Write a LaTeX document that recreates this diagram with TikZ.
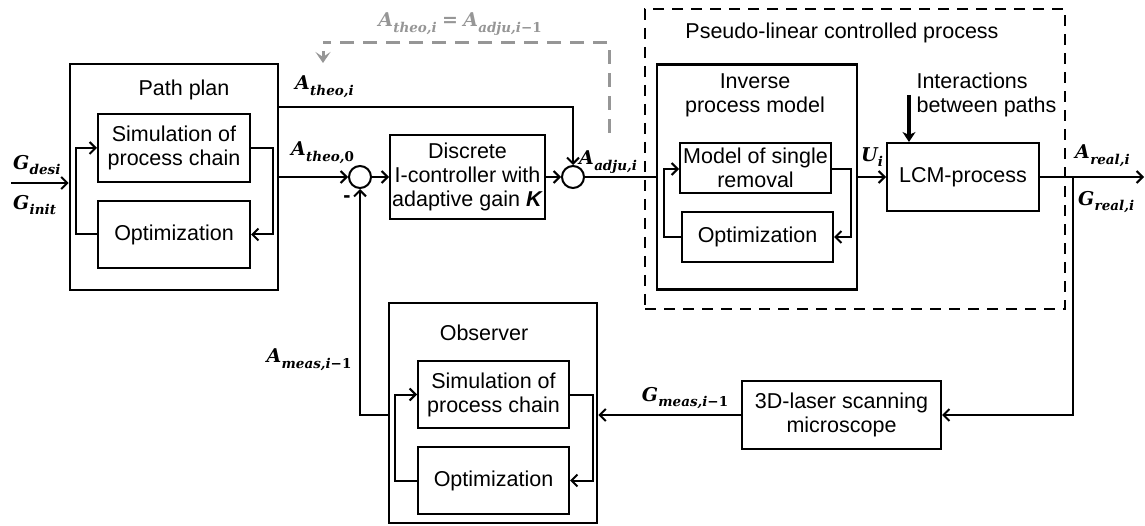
\documentclass[tikz,border=0pt]{standalone}
\usepackage{fontspec}
\setmainfont{Liberation Sans}
\newfontfamily\lserif{DejaVu Serif}
\usetikzlibrary{arrows.meta}

\definecolor{dashgray}{RGB}{150,150,150}

% bold italic serif symbol with a subscript
\newcommand\lbi{\lserif\bfseries\itshape}
\newcommand\sv[2]{{\lbi #1\kern0.3pt\raisebox{-0.3em}{\fontsize{13.5}{14}\selectfont\lbi #2}}}
\newcommand\up[1]{{\upshape #1}}

\begin{document}
\begin{tikzpicture}[x=1pt,y=-1pt,
  txt/.style={font=\fontsize{21.5}{24}\selectfont},
  mlab/.style={font=\fontsize{19}{22}\selectfont, inner sep=0pt},
  box/.style={draw, line width=2pt, inner sep=0pt, txt, align=center},
  bigbox/.style={draw, line width=2.8pt, inner sep=0pt},
  sumnode/.style={draw, circle, line width=2pt, minimum size=22pt, inner sep=0pt},
  conn/.style={line width=2pt},
  arr/.style={conn, -{Straight Barb[length=6pt,width=12pt]}},
  thickarr/.style={line width=3.2pt, -{Stealth[length=10pt,width=13pt,inset=3pt]}},
  graydash/.style={draw=dashgray, line width=3pt, dash pattern=on 14pt off 9pt},
  grayarr/.style={draw=dashgray, line width=3pt, -{Stealth[length=11pt,width=15pt,inset=5pt]}},
  procbox/.style={draw, line width=2.8pt, dash pattern=on 11pt off 8pt}
]
\useasboundingbox (0,0) rectangle (1145,526);

% ---------------- path planning ----------------
\node[bigbox, minimum width=208pt, minimum height=226pt] (pp) at (174,177) {};
\node[txt] (pptitle) at (184,90) {Path plan};
\node[box, minimum width=152pt, minimum height=68pt] (ppsim) at (174,148) {Simulation of\\process chain};
\node[box, minimum width=152pt, minimum height=67pt] (ppopt) at (174,234.5) {Optimization};
\draw[arr] (ppopt.west) -- ++(-21,0) |- (ppsim.west);
\draw[arr] (ppsim.east) -- ++(22,0) |- (ppopt.east);

% input
\coordinate (gin) at (11,183);
\draw[arr] (gin) -- (gin -| pp.west);
\node[mlab, anchor=west] (gdesi) at (13,165) {\sv{G}{desi}};
\node[mlab, anchor=west] (ginit) at (13,205) {\sv{G}{init}};

% ---------------- controller ----------------
\node[sumnode] (sum1) at (360,177) {};
\node[sumnode] (sum2) at (573,177) {};
\node[box, minimum width=155pt, minimum height=84pt] (ctrl) at (467.5,177)
  {Discrete\\I-controller with\\adaptive gain \textbf{\textit{K}}};

\coordinate (ptop) at (278,107);
\draw[arr] (ptop) -| (sum2);
\draw[arr] (pp.east) -- (sum1);
\draw[arr] (sum1) -- (ctrl);
\draw[arr] (ctrl) -- (sum2);

\node[mlab, anchor=west] (lati) at (295,87) {\sv{A}{theo,i}};
\node[mlab, anchor=west] (lat0) at (291,153) {\sv{A}{theo,\up{0}}};
\node[txt, font=\fontsize{21.5}{24}\selectfont\bfseries] (minus) at (347,199) {-};
\node[mlab, anchor=west] (ladj) at (579,162) {\sv{A}{adju,i}};

% feedback of the adjusted path
\coordinate (dg1) at (609,133);
\coordinate (dg2) at (323,43);
\coordinate (dga) at (323,51);
\coordinate (dg3) at (323,63);
\draw[graydash] (dg1) |- (dg2);
\draw[grayarr] (dga) -- (dg3);
\node[mlab, text=dashgray] (leq) at (460,24) {\sv{A}{theo,i}\ {\lserif\bfseries =}\ \sv{A}{adju,i\up{−1}}};

% ---------------- pseudo-linear process ----------------
\node[procbox, minimum width=420pt, minimum height=300pt] (proc) at (855,159) {};
\node[txt] (proctitle) at (842,33) {Pseudo-linear controlled process};

\node[bigbox, minimum width=200pt, minimum height=225pt] (inv) at (757,177) {};
\node[txt, align=center] (invtitle) at (755,95) {Inverse\\process model};
\node[box, minimum width=151pt, minimum height=50pt] (invmod) at (755.5,168) {Model of single\\removal};
\node[box, minimum width=151pt, minimum height=50pt] (invopt) at (757.5,237) {Optimization};
\draw[arr] (invopt.west) -- ++(-17,0) |- ([yshift=-1pt]invmod.west);
\draw[arr] ([yshift=-1pt]invmod.east) -- ++(19,0) |- (invopt.east);

\node[box, minimum width=152pt, minimum height=68pt] (lcm) at (963,177) {LCM-process};
\node[txt, align=left, anchor=west] (inter) at (913,95) {Interactions\\between paths};
\coordinate (intc) at (909,95);
\draw[thickarr] (intc) -- (intc |- lcm.north);

\draw[conn] (sum2) -- (inv.west);
\draw[arr] (inv.east) -- (lcm.west);
\node[mlab] (lui) at (872,157) {\sv{U}{i}};

% output and measurement
\coordinate (out) at (1144,177);
\coordinate (br) at (1073,177);
\draw[arr] (lcm) -- (out);
\node[mlab, anchor=west] (lreal) at (1075,156) {\sv{A}{real,i}};
\node[mlab, anchor=west] (lgreal) at (1078,202) {\sv{G}{real,i}};

\node[box, minimum width=199pt, minimum height=68pt] (scan) at (841.5,415) {3D-laser scanning\\microscope};
\draw[arr] (br) |- (scan.east);

% ---------------- observer ----------------
\node[bigbox, minimum width=208pt, minimum height=220pt] (obs) at (493,413) {};
\node[txt] (obstitle) at (484,333) {Observer};
\node[box, minimum width=151pt, minimum height=67pt] (obssim) at (493.5,394.5) {Simulation of\\process chain};
\node[box, minimum width=151pt, minimum height=67pt] (obsopt) at (493.5,480.5) {Optimization};
\draw[arr] (obsopt.west) -- ++(-22,0) |- (obssim.west);
\draw[arr] (obssim.east) -- ++(23,0) |- (obsopt.east);

\draw[arr] (scan.west) -- (scan.west -| obs.east);
\node[mlab] (lgmeas) at (685,398) {\sv{G}{meas,i\up{−1}}};
\draw[arr] (obs.west |- scan.west) -| (sum1);
\node[mlab] (lameas) at (309,360) {\sv{A}{meas,i\up{−1}}};

\end{tikzpicture}
\end{document}
